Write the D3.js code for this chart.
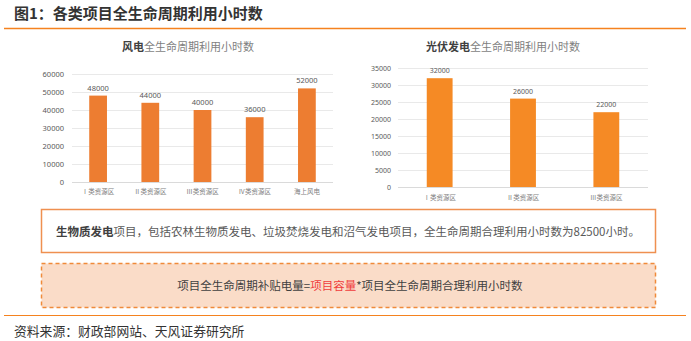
<!DOCTYPE html>
<html>
<head>
<meta charset="utf-8">
<script src="https://cdn.jsdelivr.net/npm/d3@7"></script>
<style>
  body { margin: 0; background: #fff; }
  svg { display: block; font-family: "Noto Sans CJK SC", "Noto Sans", sans-serif; }
</style>
</head>
<body>
<div id="chart"></div>
<script>
// Wind data
const windCats = ['Ⅰ类资源区', 'Ⅱ类资源区', 'Ⅲ类资源区', 'Ⅳ类资源区', '海上风电'];
const windHours = [48000, 44000, 40000, 36000, 52000];
const windTicks = [0, 10000, 20000, 30000, 40000, 50000, 60000];

// Solar data
const solarCats = ['Ⅰ类资源区', 'Ⅱ类资源区', 'Ⅲ类资源区'];
const solarHours = [32000, 26000, 22000];
const solarTicks = [0, 5000, 10000, 15000, 20000, 25000, 30000, 35000];

const width = 691, height = 341;

const svg = d3.select('#chart')
	.append('svg')
	.attr('width', width)
	.attr('height', height);

// Header
svg.append('text')
	.attr('x', 14).attr('y', 19)
	.attr('font-size', 15).attr('font-weight', 'bold')
	.attr('fill', '#333')
	.text('图1：各类项目全生命周期利用小时数');

svg.append('line')
	.attr('x1', 4).attr('x2', 686).attr('y1', 28.5).attr('y2', 28.5)
	.attr('stroke', '#f5821f').attr('stroke-width', 1.5);

// Generic bar chart drawer
const drawBars = (opts) => {
	const x = d3.scaleBand()
		.domain(opts.cats)
		.range([opts.left, opts.right])
		.paddingInner(opts.pad)
		.paddingOuter(opts.pad / 2);

	const y = d3.scaleLinear()
		.domain([0, d3.max(opts.ticks)])
		.range([opts.bottom, opts.top]);

	const g = svg.append('g');

	// title
	const title = g.append('text')
		.attr('x', opts.titleX).attr('y', 51)
		.attr('text-anchor', 'middle')
		.attr('font-size', 11);
	title.append('tspan').attr('fill', '#404040').attr('font-weight', 'bold').text(opts.titleBold);
	title.append('tspan').attr('fill', '#7f7f7f').text('全生命周期利用小时数');

	// gridlines
	g.selectAll('.grid')
		.data(opts.ticks)
		.enter()
		.append('line')
		.attr('x1', opts.left).attr('x2', opts.right)
		.attr('y1', d => Math.round(y(d)) + 0.5)
		.attr('y2', d => Math.round(y(d)) + 0.5)
		.attr('stroke', d => d === 0 ? '#d0d0d0' : '#e3e3e3')
		.attr('stroke-width', 0.8);

	// y axis labels
	const yAxis = d3.axisLeft(y).tickValues(opts.ticks).tickFormat(d3.format('d')).tickSize(0).tickPadding(0);
	const ya = g.append('g')
		.attr('transform', `translate(${opts.labelRight},0)`)
		.call(yAxis);
	ya.select('.domain').remove();
	ya.selectAll('text')
		.attr('font-family', '"Noto Sans", sans-serif')
		.attr('font-size', opts.tickSize)
		.attr('fill', '#595959');

	// bars
	g.selectAll('.bar')
		.data(opts.values)
		.enter()
		.append('rect')
		.attr('x', (d, i) => x(opts.cats[i]))
		.attr('y', d => y(d))
		.attr('width', x.bandwidth())
		.attr('height', d => y(0) - y(d))
		.attr('fill', opts.color);

	// value labels
	g.selectAll('.val')
		.data(opts.values)
		.enter()
		.append('text')
		.attr('x', (d, i) => x(opts.cats[i]) + x.bandwidth() / 2)
		.attr('y', d => y(d) - 5)
		.attr('text-anchor', 'middle')
		.attr('font-family', '"Noto Sans", sans-serif')
		.attr('font-size', opts.tickSize)
		.attr('fill', '#595959')
		.text(d => d);

	// category labels
	g.selectAll('.cat')
		.data(opts.cats)
		.enter()
		.append('text')
		.attr('x', d => x(d) + x.bandwidth() / 2)
		.attr('y', opts.catY)
		.attr('text-anchor', 'middle')
		.attr('font-size', opts.catSize)
		.attr('fill', '#7f7f7f')
		.text(d => d);
};

drawBars({
	cats: windCats, values: windHours, ticks: windTicks,
	left: 72, right: 333, top: 74, bottom: 182, pad: 0.66,
	labelRight: 64, tickSize: 7.5, catY: 194, catSize: 6.5,
	color: '#ed7d31', titleX: 188, titleBold: '风电'
});

drawBars({
	cats: solarCats, values: solarHours, ticks: solarTicks,
	left: 398, right: 648, top: 68, bottom: 187, pad: 0.69,
	labelRight: 391, tickSize: 7, catY: 200, catSize: 6.5,
	color: '#f58a25', titleX: 503, titleBold: '光伏发电'
});

// Biomass box
svg.append('rect')
	.attr('x', 41.5).attr('y', 209.5).attr('width', 614).attr('height', 43)
	.attr('fill', '#fff').attr('stroke', '#ef9050').attr('stroke-width', 1.5);

const t1 = svg.append('text')
	.attr('x', 56).attr('y', 236)
	.attr('font-size', 11.5).attr('fill', '#595959');
t1.append('tspan').attr('font-weight', 'bold').attr('fill', '#404040').text('生物质发电');
t1.append('tspan').text('项目，包括农林生物质发电、垃圾焚烧发电和沼气发电项目，全生命周期合理利用小时数为82500小时。');

// Formula box
svg.append('rect')
	.attr('x', 41.5).attr('y', 263.5).attr('width', 614).attr('height', 44)
	.attr('fill', '#fadcc8').attr('stroke', '#f08a3a').attr('stroke-width', 1.5)
	.attr('stroke-dasharray', '4,3');

const t2 = svg.append('text')
	.attr('x', 350).attr('y', 290)
	.attr('text-anchor', 'middle')
	.attr('font-size', 11.5).attr('fill', '#404040');
t2.append('tspan').text('项目全生命周期补贴电量=');
t2.append('tspan').attr('fill', '#f03c3c').text('项目容量');
t2.append('tspan').text('*项目全生命周期合理利用小时数');

// Footer
svg.append('line')
	.attr('x1', 4).attr('x2', 686).attr('y1', 315.5).attr('y2', 315.5)
	.attr('stroke', '#f5821f').attr('stroke-width', 1.2);

svg.append('text')
	.attr('x', 14).attr('y', 336)
	.attr('font-size', 12.8).attr('fill', '#333')
	.text('资料来源：财政部网站、天风证券研究所');
</script>
</body>
</html>
